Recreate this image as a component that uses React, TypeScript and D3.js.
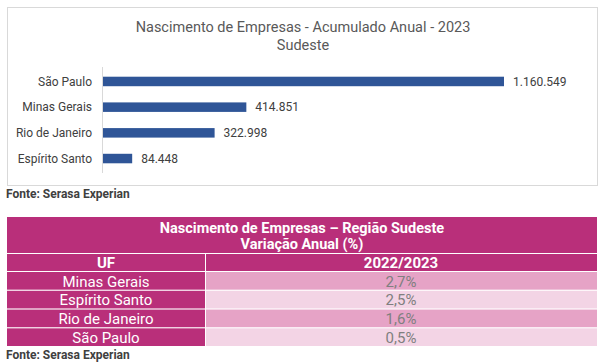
import React from "react"
import * as d3 from "d3"

// bar chart data
const states = ["São Paulo", "Minas Gerais", "Rio de Janeiro", "Espírito Santo"]
const births = [1160549, 414851, 322998, 84448]

// table data
const tableStates = ["Minas Gerais", "Espírito Santo", "Rio de Janeiro", "São Paulo"]
const tableVariation = ["2,7%", "2,5%", "1,6%", "0,5%"]

const W = 603
const H = 363
const FONT = "Roboto, 'Liberation Sans', sans-serif"

const fmt = (v: number) => d3.format(",")(v).replace(/,/g, ".")

const App = () => {
    const x = d3.scaleLinear().domain([0, 1160549]).range([103, 504])
    const y = d3.scaleBand().domain(states).range([69, 171]).paddingInner(0.63).paddingOuter(0.3)

    const rowY = d3.scaleBand().domain(tableStates).range([272, 346]).paddingInner(0.06)
    const tLeft = 7
    const tRight = 597
    const colSplit = 205

    return (
        <div style={{ position: "absolute", left: 0, top: 0 }}>
            <svg width={W} height={H} style={{ display: "block", fontFamily: FONT }}>
                <rect x={0} y={0} width={W} height={H} fill="#fff" />
                {/* chart frame */}
                <rect x={7.5} y={7.5} width={590} height={178} fill="#fff" stroke="#d9d9d9" strokeWidth={1} />
                <text x={303} y={32} textAnchor="middle" fontSize={14.5} fill="#595959">
                    Nascimento de Empresas - Acumulado Anual - 2023
                </text>
                <text x={303} y={50} textAnchor="middle" fontSize={14.5} fill="#595959">
                    Sudeste
                </text>
                <line x1={102.5} x2={102.5} y1={67} y2={173} stroke="#d9d9d9" />
                {states.map((s, i) => (
                    <g key={s}>
                        <rect
                            x={x(0)}
                            y={y(s)}
                            width={x(births[i]) - x(0)}
                            height={y.bandwidth()}
                            fill="#2F5597"
                        />
                        <text
                            x={92}
                            y={(y(s) || 0) + y.bandwidth() / 2}
                            dy="0.35em"
                            textAnchor="end"
                            fontSize={12}
                            fill="#404040"
                        >
                            {s}
                        </text>
                        <text
                            x={x(births[i]) + 9}
                            y={(y(s) || 0) + y.bandwidth() / 2}
                            dy="0.35em"
                            fontSize={12}
                            fill="#404040"
                        >
                            {fmt(births[i])}
                        </text>
                    </g>
                ))}
                <text x={6} y={198} fontSize={12} fontWeight={700} fill="#404040">
                    Fonte: Serasa Experian
                </text>

                {/* table */}
                <rect x={tLeft} y={217} width={tRight - tLeft} height={36} fill="#B92F7A" />
                <text x={302} y={233} textAnchor="middle" fontSize={14.5} fontWeight={700} fill="#fff">
                    Nascimento de Empresas – Região Sudeste
                </text>
                <text x={302} y={249} textAnchor="middle" fontSize={14.5} fontWeight={700} fill="#fff">
                    Variação Anual (%)
                </text>
                <rect x={tLeft} y={254} width={colSplit - tLeft} height={17} fill="#B92F7A" />
                <rect x={colSplit + 1} y={254} width={tRight - colSplit - 1} height={17} fill="#B92F7A" />
                <text x={(tLeft + colSplit) / 2} y={263} dy="0.35em" textAnchor="middle" fontSize={15} fontWeight={700} fill="#fff">
                    UF
                </text>
                <text x={(colSplit + tRight) / 2} y={263} dy="0.35em" textAnchor="middle" fontSize={15} fontWeight={700} fill="#fff">
                    2022/2023
                </text>
                {tableStates.map((s, i) => {
                    const ry = rowY(s) || 0
                    const h = rowY.bandwidth()
                    return (
                        <g key={s}>
                            <rect x={tLeft} y={ry} width={colSplit - tLeft} height={h} fill="#B92F7A" />
                            <rect
                                x={colSplit + 1}
                                y={ry}
                                width={tRight - colSplit - 1}
                                height={h}
                                fill={i % 2 === 0 ? "#E6A3C6" : "#F3D4E5"}
                            />
                            <text x={(tLeft + colSplit) / 2} y={ry + h / 2 + 0.5} dy="0.35em" textAnchor="middle" fontSize={15} fill="#fff">
                                {s}
                            </text>
                            <text x={(colSplit + tRight) / 2} y={ry + h / 2 + 0.5} dy="0.35em" textAnchor="middle" fontSize={15} fill="#7f7f7f">
                                {tableVariation[i]}
                            </text>
                        </g>
                    )
                })}
                <text x={6} y={359} fontSize={12} fontWeight={700} fill="#404040">
                    Fonte: Serasa Experian
                </text>
            </svg>
        </div>
    )
}

export default App
